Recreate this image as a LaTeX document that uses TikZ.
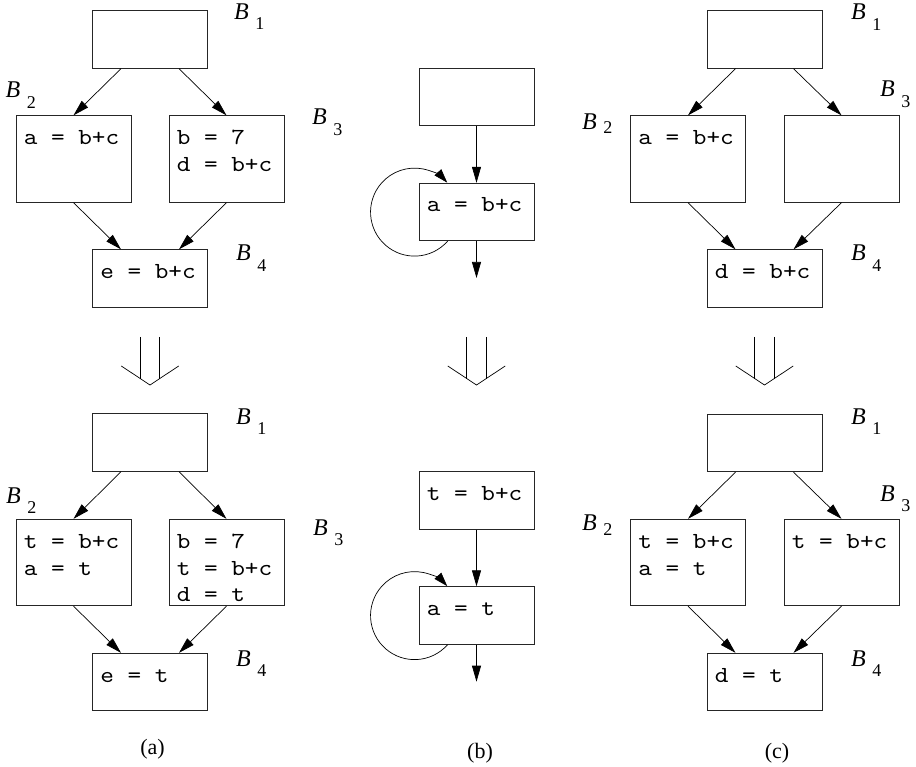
\documentclass[tikz,border=0pt]{standalone}
\usepackage{fontspec}
\setmainfont{Liberation Serif}
\newfontfamily\codefont{lmmono10-regular.otf}[FakeStretch=1.13]
\usetikzlibrary{arrows.meta,calc}
\newcommand{\blab}[2][10.5]{{\fontsize{24}{26}\selectfont\itshape B}\kern6.5pt\raisebox{-#1pt}{\fontsize{18}{20}\selectfont #2}}
\begin{document}
\begin{tikzpicture}[x=1pt,y=-1pt,
  box/.style={draw=black!85, line width=0.8pt, minimum width=115pt, inner sep=0pt},
  small/.style={box, minimum height=57.5pt},
  large/.style={box, minimum height=86.5pt},
  code/.style={anchor=base west, inner sep=0pt, font=\codefont\fontsize{23}{27}\selectfont},
  blabel/.style={anchor=base west, inner sep=0pt},
  captext/.style={inner sep=0pt, font=\fontsize{22}{24}\selectfont},
  arr/.style={line width=0.7pt, -{Triangle[length=16pt,width=9pt]}},
  impl/.style={line width=0.7pt}
]
\useasboundingbox (0,0) rectangle (916,767);

% ---------------- (a) top ----------------
\node[small] (a1) at (150,39.5) {};
\node[large] (a2) at (73.5,159) {};
\node[large] (a3) at (226.5,159) {};
\node[small] (a4) at (150,278.5) {};
\node[code] (a2t1) at ($(a2.north west)+(8,29.5)$) {a = b+c};
\node[code] (a3t1) at ($(a3.north west)+(8,29.5)$) {b = 7};
\node[code] (a3t2) at ($(a3.north west)+(8,56.5)$) {d = b+c};
\node[code] (a4t1) at ($(a4.north west)+(8,29.5)$) {e = b+c};
\draw[arr] ($(a1.south)+(-29,0)$) -- (a2.north);
\draw[arr] ($(a1.south)+(29,0)$) -- (a3.north);
\draw[arr] (a2.south) -- ($(a4.north)+(-29,0)$);
\draw[arr] (a3.south) -- ($(a4.north)+(29,0)$);
\node[blabel] (la1) at (234,19.5) {\blab{1}};
\node[blabel] (la2) at (5.5,98) {\blab{2}};
\node[blabel] (la3) at (312,125) {\blab{3}};
\node[blabel] (la4) at (236,261) {\blab{4}};

% ---------------- (b) top ----------------
\node[small] (b1) at (476.5,97) {};
\node[small] (b2) at (476.5,212) {};
\node[code] (b2t1) at ($(b2.north west)+(8,29)$) {a = b+c};
\coordinate (bx) at (476.5,278);
\draw[arr] (b1.south) -- (b2.north);
\draw[arr] (b2.south) -- (bx);
\draw[line width=0.7pt, -{Triangle[length=14pt,width=9pt]}] ($(b2.south west)+(29,0)$) arc[start angle=41.3, end angle=318, radius=44];

% ---------------- (c) top ----------------
\node[small] (c1) at (764.5,39.5) {};
\node[large] (c2) at (688,159) {};
\node[large] (c3) at (841.5,159) {};
\node[small] (c4) at (764.5,278.5) {};
\node[code] (c2t1) at ($(c2.north west)+(8,29.5)$) {a = b+c};
\node[code] (c4t1) at ($(c4.north west)+(8,29.5)$) {d = b+c};
\draw[arr] ($(c1.south)+(-29,0)$) -- (c2.north);
\draw[arr] ($(c1.south)+(29,0)$) -- (c3.north);
\draw[arr] (c2.south) -- ($(c4.north)+(-29,0)$);
\draw[arr] (c3.south) -- ($(c4.north)+(29,0)$);
\node[blabel] (lc1) at (851,20) {\blab{1}};
\node[blabel] (lc2) at (582,130) {\blab[4]{2}};
\node[blabel] (lc3) at (880,97) {\blab{3}};
\node[blabel] (lc4) at (851,261) {\blab{4}};

% ---------------- implication arrows ----------------
\foreach \cx in {150,476.5,764.5} {
  \draw[impl] (\cx-28.7,366) -- (\cx,385) -- (\cx+28.7,366);
  \draw[impl] (\cx-9.7,337) -- (\cx-9.7,378.6);
  \draw[impl] (\cx+9.7,337) -- (\cx+9.7,378.6);
}

% ---------------- (a) bottom ----------------
\node[small] (A1) at (150,442.5) {};
\node[large] (A2) at (73.5,562.5) {};
\node[large] (A3) at (226.5,562.5) {};
\node[small] (A4) at (150,682) {};
\node[code] (A2t1) at ($(A2.north west)+(8,29.5)$) {t = b+c};
\node[code] (A2t2) at ($(A2.north west)+(8,56.2)$) {a = t};
\node[code] (A3t1) at ($(A3.north west)+(8,29.5)$) {b = 7};
\node[code] (A3t2) at ($(A3.north west)+(8,56.2)$) {t = b+c};
\node[code] (A3t3) at ($(A3.north west)+(8,82.9)$) {d = t};
\node[code] (A4t1) at ($(A4.north west)+(8,29.5)$) {e = t};
\draw[arr] ($(A1.south)+(-29,0)$) -- (A2.north);
\draw[arr] ($(A1.south)+(29,0)$) -- (A3.north);
\draw[arr] (A2.south) -- ($(A4.north)+(-29,0)$);
\draw[arr] (A3.south) -- ($(A4.north)+(29,0)$);
\node[blabel] (lA1) at (236,424) {\blab{1}};
\node[blabel] (lA2) at (6,503) {\blab{2}};
\node[blabel] (lA3) at (313,535) {\blab{3}};
\node[blabel] (lA4) at (236,666) {\blab{4}};
\node[captext] (capa) at (152.5,749) {(a)};

% ---------------- (b) bottom ----------------
\node[small] (B1) at (476.5,500.5) {};
\node[small] (B2) at (476.5,615.5) {};
\node[code] (B1t1) at ($(B1.north west)+(8,29)$) {t = b+c};
\node[code] (B2t1) at ($(B2.north west)+(8,29)$) {a = t};
\coordinate (Bx) at (476.5,681.7);
\draw[arr] (B1.south) -- (B2.north);
\draw[arr] (B2.south) -- (Bx);
\draw[line width=0.7pt, -{Triangle[length=14pt,width=9pt]}] ($(B2.south west)+(29,0)$) arc[start angle=41.3, end angle=318, radius=44];
\node[captext] (capb) at (480,753) {(b)};

% ---------------- (c) bottom ----------------
\node[small] (C1) at (764.5,443) {};
\node[large] (C2) at (688,562.5) {};
\node[large] (C3) at (841.5,562.5) {};
\node[small] (C4) at (764.5,682) {};
\node[code] (C2t1) at ($(C2.north west)+(8,29.5)$) {t = b+c};
\node[code] (C2t2) at ($(C2.north west)+(8,56.2)$) {a = t};
\node[code] (C3t1) at ($(C3.north west)+(8,29.5)$) {t = b+c};
\node[code] (C4t1) at ($(C4.north west)+(8,29.5)$) {d = t};
\draw[arr] ($(C1.south)+(-29,0)$) -- (C2.north);
\draw[arr] ($(C1.south)+(29,0)$) -- (C3.north);
\draw[arr] (C2.south) -- ($(C4.north)+(-29,0)$);
\draw[arr] (C3.south) -- ($(C4.north)+(29,0)$);
\node[blabel] (lC1) at (851,424) {\blab{1}};
\node[blabel] (lC2) at (582,530) {\blab[5]{2}};
\node[blabel] (lC3) at (880,501) {\blab{3}};
\node[blabel] (lC4) at (851,666) {\blab{4}};
\node[captext] (capc) at (777,753) {(c)};
\end{tikzpicture}
\end{document}
